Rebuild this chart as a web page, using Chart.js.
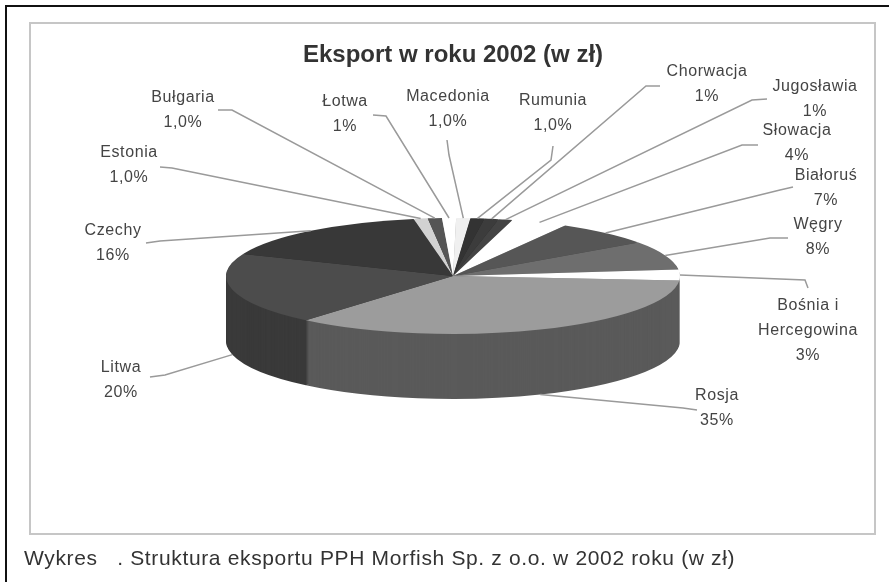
<!DOCTYPE html>
<html lang="pl">
<head>
<meta charset="utf-8">
<title>Eksport w roku 2002</title>
<script src="https://cdn.jsdelivr.net/npm/chart.js@4"></script>
<style>
  html, body { margin: 0; background: #fff; overflow: hidden; }
  #page { position: relative; width: 889px; height: 582px; filter: blur(0.5px); }
  #outer { position: absolute; left: 5px; top: 5px; width: 890px; height: 590px; border: 2px solid #111; box-sizing: border-box; }
  #frame { position: absolute; left: 29px; top: 22px; width: 847px; height: 513px; border: 2px solid #c6c6c6; box-sizing: border-box; }
  #caption { position: absolute; left: 24px; top: 546px; font: 21px "Liberation Sans", Arial, sans-serif; letter-spacing: 0.65px; color: #333; white-space: pre; }
  canvas { position: absolute; left: 0; top: 0; }
</style>
</head>
<body>
<div id="page">
  <div id="outer"></div>
  <div id="frame"></div>
  <canvas id="myChart" width="889" height="582"></canvas>
  <div id="caption">Wykres   . Struktura eksportu PPH Morfish Sp. z o.o. w 2002 roku (w zł)</div>
</div>
<script>
// slices clockwise, starting at the back of the pie
var categories = ["Estonia", "Bułgaria", "Łotwa", "Macedonia", "Rumunia", "Chorwacja", "Jugosławia", "Słowacja", "Białoruś", "Węgry", "Bośnia i Hercegowina", "Rosja", "Litwa", "Czechy"];
var shares = [1, 1, 1, 1, 1, 1, 1, 4, 7, 8, 3, 35, 20, 16];
var shareLabels = ["1,0%", "1,0%", "1%", "1,0%", "1,0%", "1%", "1%", "4%", "7%", "8%", "3%", "35%", "20%", "16%"];

var topColors = ["#d2d2d2", "#555555", "#ffffff", "#f0f0f0", "#333333", "#3c3c3c", "#444444", "#ffffff", "#565656", "#6e6e6e", "#ffffff", "#9c9c9c", "#4c4c4c", "#383838"];
var sideColors = ["#888888", "#333333", "#aaaaaa", "#aaaaaa", "#222222", "#222222", "#222222", "#aaaaaa", "#333333", "#444444", "#999999", "#5a5a5a", "#3a3a3a", "#2e2e2e"];

// where each label sits: text lines with their centre, and the leader start + elbow
var labelLines = [
  ["Estonia"], ["Bułgaria"], ["Łotwa"], ["Macedonia"], ["Rumunia"], ["Chorwacja"], ["Jugosławia"],
  ["Słowacja"], ["Białoruś"], ["Węgry"], ["Bośnia i", "Hercegowina"], ["Rosja"], ["Litwa"], ["Czechy"]
];
var labelPos = [[129, 153], [183, 98], [345, 102], [448, 97], [553, 101], [707, 72], [815, 87], [797, 131], [826, 176], [818, 225], [808, 306], [717, 396], [121, 368], [113, 231]];
var leaderPos = [
  [160, 167, 172, 168], [218, 110, 232, 110], [373, 115, 386, 116], [447, 140, 449, 155], [553, 146, 551, 160],
  [660, 86, 646, 86], [767, 99, 752, 100], [758, 145, 742, 145], [793, 187, 780, 190], [788, 238, 770, 238],
  [808, 288, 805, 280], [697, 410, 683, 408], [150, 377, 165, 375], [146, 243, 160, 241]
];

// ellipse of the top face and height of the wall
var pieX = 453, pieY = 276, pieRx = 227, pieRy = 58, pieDepth = 65;
var pieRotation = -10;

var pie3d = {
  id: "pie3d",
  beforeDatasetsDraw: function (chart) {
    var ctx = chart.ctx;
    var arcs = chart.getDatasetMeta(0).data;
    var r = arcs[0].outerRadius;
    var cx = arcs[0].x, cy = arcs[0].y;

    function flat(dy) {
      ctx.translate(pieX, pieY + dy);
      ctx.scale(pieRx / r, pieRy / r);
      ctx.translate(-cx, -cy);
    }

    // wall: the same arcs stacked from the bottom up
    for (var d = pieDepth; d > 0; d--) {
      ctx.save();
      flat(d);
      arcs.forEach(function (arc, i) {
        var keep = arc.options;
        arc.options = Object.assign({}, keep, { backgroundColor: sideColors[i], borderWidth: 0 });
        arc.draw(ctx);
        arc.options = keep;
      });
      ctx.restore();
    }

    ctx.save();
    flat(0);
    arcs.forEach(function (arc) { arc.draw(ctx); });
    ctx.restore();

    // leaders and labels
    ctx.save();
    ctx.strokeStyle = "#9a9a9a";
    ctx.lineWidth = 1.5;
    ctx.fillStyle = "#444";
    ctx.font = "16px 'Liberation Sans', Arial, sans-serif";
    ctx.letterSpacing = "0.6px";
    ctx.textAlign = "center";
    ctx.textBaseline = "middle";
    arcs.forEach(function (arc, i) {
      var a = (arc.startAngle + arc.endAngle) / 2;
      var ex = pieX + pieRx * Math.cos(a);
      var ey = pieY + pieRy * Math.sin(a);
      if (Math.sin(a) > 0.1) ey += pieDepth;
      var l = leaderPos[i];
      ctx.beginPath();
      ctx.moveTo(l[0], l[1]);
      ctx.lineTo(l[2], l[3]);
      ctx.lineTo(ex, ey);
      ctx.stroke();

      var y = labelPos[i][1];
      labelLines[i].forEach(function (t) {
        ctx.fillText(t, labelPos[i][0], y);
        y += 25;
      });
      ctx.fillText(shareLabels[i], labelPos[i][0], y);
    });
    ctx.restore();
    return false;
  }
};

window.onload = function () {
  var ctx = document.getElementById("myChart").getContext("2d");
  new Chart(ctx, {
    type: "pie",
    data: {
      labels: categories,
      datasets: [{
        data: shares,
        backgroundColor: topColors,
        borderWidth: 0,
      }],
    },
    options: {
      responsive: false,
      animation: false,
      rotation: pieRotation,
      layout: { padding: { left: 17 } },
      plugins: {
        legend: { display: false },
        tooltip: { enabled: false },
        title: {
          display: true,
          text: "Eksport w roku 2002 (w zł)",
          color: "#333",
          font: { family: "'Liberation Sans', Arial, sans-serif", size: 24, weight: "bold" },
          padding: { top: 41, bottom: 10 },
        },
      },
    },
    plugins: [pie3d],
  });
};
</script>
</body>
</html>
